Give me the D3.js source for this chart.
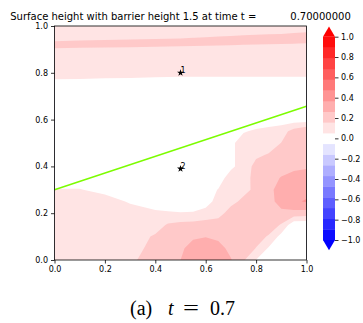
<!DOCTYPE html>
<html>
<head>
<meta charset="utf-8">
<script src="https://cdn.jsdelivr.net/npm/d3@7"></script>
<style>
  body { margin: 0; background: #fff; }
  svg { font-family: "DejaVu Sans", sans-serif; }
</style>
</head>
<body>
<svg id="chart" width="363" height="323"></svg>
<script>
// grid positions of the sampled surface (rows listed from top y=1 down to y=0)
var xs = [0, 0.1, 0.2, 0.3, 0.4, 0.45, 0.5, 0.55, 0.6, 0.65, 0.7, 0.75, 0.8, 0.85, 0.9, 0.95, 1];
var ys = [1, 0.975, 0.95, 0.925, 0.9, 0.85, 0.8, 0.75, 0.7, 0.65, 0.6, 0.55, 0.5, 0.45, 0.4, 0.35, 0.3, 0.25, 0.2, 0.15, 0.1, 0.05, 0];

// surface height, one row per entry of ys
var surface = [
  [.1, .1, .1, .1, .1, .1, .1, .1, .1, .1, .1, .1, .1, .1, .1, .1, .1],
  [.1, .1, .1, .1, .1, .1, .1, .1, .1, .1, .1, .1, .11, .12, .13, .145, .155],
  [.08, .106, .123, .135, .144, .148, .151, .157, .164, .172, .182, .2, .21, .21, .21, .21, .21],
  [.21, .21, .21, .21, .21, .21, .21, .21, .21, .19, .184, .177, .172, .167, .163, .159, .156],
  [.145, .139, .133, .125, .114, .108, .102, .089, .072, .09, .09, .09, .09, .09, .09, .09, .09],
  [.1, .1, .1, .1, .1, .1, .1, .1, .1, .1, .1, .1, .1, .1, .1, .1, .1],
  [.12, .11, .1, .094, .085, .082, .08, .08, .08, .08, .08, .08, .08, .08, .08, .08, .08],
  [0, 0, 0, 0, 0, 0, 0, 0, 0, 0, 0, 0, 0, 0, 0, 0, 0],
  [0, 0, 0, 0, 0, 0, 0, 0, 0, 0, 0, 0, 0, 0, 0, 0, 0],
  [0, 0, 0, 0, 0, 0, 0, 0, 0, 0, 0, 0, 0, 0, 0, 0, 0],
  [0, 0, 0, 0, 0, 0, 0, 0, 0, 0, 0, 0, 0, 0, 0, 0, 0],
  [0, 0, 0, 0, 0, 0, 0, 0, 0, 0, 0, .045, .066, .082, .11, .2, .26],
  [0, 0, 0, 0, 0, 0, 0, 0, 0, 0, .03, .1, .1, .11, .16, .21, .25],
  [0, 0, 0, 0, 0, 0, 0, 0, 0, 0, .03, .1, .14, .165, .2, .21, .23],
  [0, 0, 0, 0, 0, 0, 0, 0, 0, 0, .03, .1, .19, .21, .22, .24, .25],
  [0, 0, 0, 0, 0, 0, 0, 0, 0, 0, .105, .12, .19, .22, .27, .3, .31],
  [.058, .058, .021, 0, 0, 0, 0, 0, 0, .058, .1, .13, .18, .22, .33, .33, .33],
  [.1, .1, .1, .041, 0, 0, 0, 0, 0, .1, .13, .18, .21, .23, .3, .35, .38],
  [.1, .1, .1, .1, .073, .063, .057, .06, .1, .12, .2, .22, .22, .22, .24, .23, .22],
  [.1, .1, .1, .1, .11, .17, .19, .2, .2, .21, .22, .22, .21, .2, .15, -.03, -.03],
  [.1, .1, .1, .1, .172, .2, .23, .25, .26, .24, .22, .21, .19, .15, .015, -.02, -.03],
  [.1, .1, .1, .1, .205, .23, .246, .3, .31, .3, .234, .21, .155, .041, 0, -.02, -.03],
  [.1, .1, .1, .14, .204, .23, .263, .31, .32, .3, .27, .17, .05, 0, 0, -.02, -.03]
];

var levels = d3.range(20).map(function(k) { return -1 + k * 2 / 19; });
var axisTicks = [0, 0.2, 0.4, 0.6, 0.8, 1.0];
var cbarTicks = [-1, -0.8, -0.6, -0.4, -0.2, 0, 0.2, 0.4, 0.6, 0.8, 1];
var barrierX = [0, 1];
var barrierY = [0.3, 0.657];
var gauges = [{ x: 0.5, y: 0.8, label: "1" }, { x: 0.5, y: 0.39, label: "2" }];

// matplotlib "bwr"
function bwr(v) {
  v = Math.max(0, Math.min(1, v));
  var c;
  if (v < 0.5) { c = Math.round(2 * v * 255); return d3.rgb(c, c, 255).toString(); }
  c = Math.round((2 - 2 * v) * 255);
  return d3.rgb(255, c, c).toString();
}
function bandColor(k) {
  var mid = (levels[k] + levels[k + 1]) / 2;
  return bwr((mid + 1) / 2);
}

var svg = d3.select("#chart");

var x = d3.scaleLinear().domain([0, 1]).range([54.5, 306.5]),
    y = d3.scaleLinear().domain([0, 1]).range([260, 26]);

// filled contours
var contours = d3.contours()
    .size([xs.length, ys.length])
    .thresholds(levels.slice(0, 19))(surface.flat());

var gx = d3.scaleLinear().domain(xs.map(function(d, i) { return i + 0.5; })).range(xs),
    gy = d3.scaleLinear().domain(ys.map(function(d, i) { return i + 0.5; })).range(ys);

var path = d3.geoPath(d3.geoTransform({
  point: function(px, py) { this.stream.point(x(gx(px)), y(gy(py))); }
}));

svg.append("clipPath").attr("id", "plotclip")
  .append("rect")
    .attr("x", x(0)).attr("y", y(1))
    .attr("width", x(1) - x(0)).attr("height", y(0) - y(1));

var plot = svg.append("g").attr("clip-path", "url(#plotclip)");

plot.selectAll("path.band")
  .data(contours)
  .enter().append("path")
    .attr("class", "band")
    .attr("d", path)
    .attr("fill", function(d, i) { return bandColor(i); });

// barrier line
plot.append("line")
    .attr("x1", x(barrierX[0])).attr("y1", y(barrierY[0]))
    .attr("x2", x(barrierX[1])).attr("y2", y(barrierY[1]))
    .attr("stroke", "#7cfc00")
    .attr("stroke-width", 1.5);

// gauges
var star = d3.symbol().type(d3.symbolStar).size(15);
svg.selectAll("path.gauge")
  .data(gauges)
  .enter().append("path")
    .attr("class", "gauge")
    .attr("d", star)
    .attr("transform", function(d) { return "translate(" + x(d.x) + "," + y(d.y) + ")"; })
    .attr("fill", "#000");

svg.selectAll("text.glabel")
  .data(gauges)
  .enter().append("text")
    .attr("class", "glabel")
    .attr("x", function(d) { return x(d.x); })
    .attr("y", function(d) { return y(d.y); })
    .attr("font-size", 8)
    .text(function(d) { return d.label; });

// axes
var fmt = d3.format(".1f");

var xAxis = svg.append("g")
    .attr("transform", "translate(0," + y(0) + ")")
    .call(d3.axisBottom(x).tickValues(axisTicks).tickFormat(fmt).tickSize(3.5).tickPadding(3));
var yAxis = svg.append("g")
    .attr("transform", "translate(" + x(0) + ",0)")
    .call(d3.axisLeft(y).tickValues(axisTicks).tickFormat(fmt).tickSize(3.5).tickPadding(3));

[xAxis, yAxis].forEach(function(a) {
  a.select(".domain").remove();
  a.selectAll("line").attr("stroke", "#000").attr("stroke-width", 0.8);
  a.selectAll("text").attr("font-size", 8).attr("fill", "#000")
    .attr("font-family", "DejaVu Sans");
});

svg.append("rect")
    .attr("x", x(0)).attr("y", y(1))
    .attr("width", x(1) - x(0)).attr("height", y(0) - y(1))
    .attr("fill", "none")
    .attr("stroke", "#000")
    .attr("stroke-width", 0.8);

// title
var title = svg.append("text")
    .attr("x", (x(0) + x(1)) / 2)
    .attr("y", 20)
    .attr("text-anchor", "middle")
    .attr("font-size", 10)
    .attr("fill", "#000");
title.append("tspan").text("Surface height with barrier height 1.5 at time t =");
title.append("tspan").attr("dx", 34).text("0.70000000");

// colorbar
var cbX = 323, cbW = 12;
var yc = d3.scaleLinear().domain([-1, 1]).range([240, 36.7]);
var cbar = svg.append("g");

cbar.selectAll("rect")
  .data(d3.range(19))
  .enter().append("rect")
    .attr("x", cbX)
    .attr("y", function(k) { return yc(levels[k + 1]); })
    .attr("width", cbW)
    .attr("height", function(k) { return yc(levels[k]) - yc(levels[k + 1]) + 0.4; })
    .attr("fill", function(k) { return bandColor(k); });

var ext = 0.05 * (yc(-1) - yc(1));
cbar.append("path")
    .attr("d", "M" + cbX + "," + yc(1) + "L" + (cbX + cbW / 2) + "," + (yc(1) - ext) + "L" + (cbX + cbW) + "," + yc(1) + "Z")
    .attr("fill", bwr(1));
cbar.append("path")
    .attr("d", "M" + cbX + "," + yc(-1) + "L" + (cbX + cbW / 2) + "," + (yc(-1) + ext) + "L" + (cbX + cbW) + "," + yc(-1) + "Z")
    .attr("fill", bwr(0));

var cAxis = svg.append("g")
    .attr("transform", "translate(" + (cbX + cbW) + ",0)")
    .call(d3.axisRight(yc).tickValues(cbarTicks).tickFormat(fmt).tickSize(3.5).tickPadding(2.5));
cAxis.select(".domain").remove();
cAxis.selectAll("line").attr("stroke", "#000").attr("stroke-width", 0.8);
cAxis.selectAll("text").attr("font-size", 8).attr("fill", "#000").attr("font-family", "DejaVu Sans");

// caption
var cap = svg.append("text")
    .attr("y", 315)
    .attr("font-size", 20)
    .attr("fill", "#000")
    .style("font-family", "'Liberation Serif', 'DejaVu Serif', serif");
cap.append("tspan").attr("x", 130).text("(a)");
cap.append("tspan").attr("x", 168).style("font-style", "italic").text("t");
cap.append("tspan").attr("x", 183).attr("textLength", 16).attr("lengthAdjust", "spacingAndGlyphs").text("=");
cap.append("tspan").attr("x", 210).text("0.7");
</script>
</body>
</html>
